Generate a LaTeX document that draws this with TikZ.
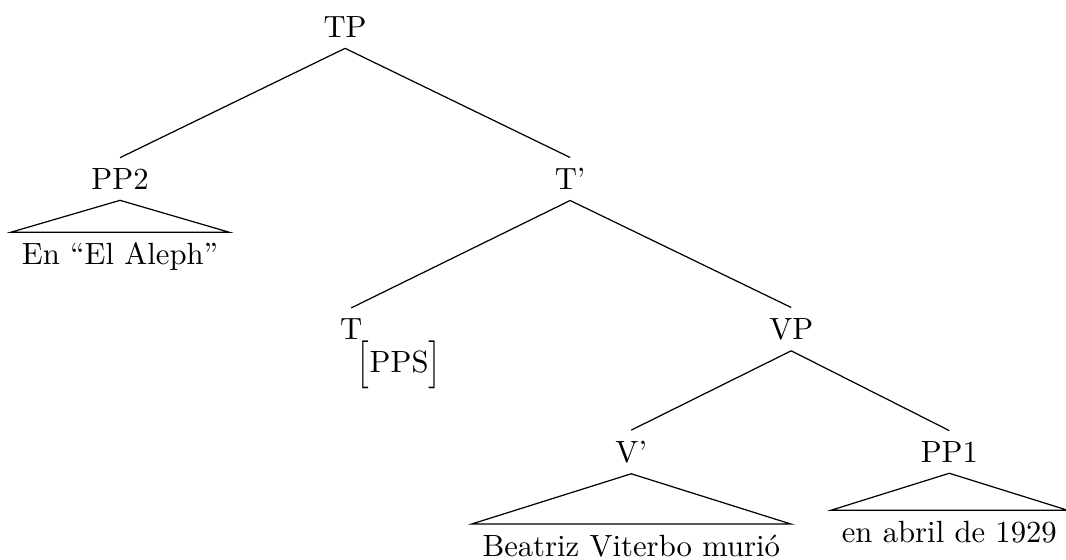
\documentclass[tikz,border=0pt]{standalone}
\usepackage{amsmath}
\usepackage{graphicx}
\usetikzlibrary{positioning}
% taller brackets round a feature
\newcommand{\featbrack}[1]{\raisebox{-0.9pt}{\scalebox{1}[1.3]{$#1$}}}

\begin{document}
\begin{tikzpicture}[
    on grid,
    cat/.style={inner sep=3.33pt},
    leaf/.style={inner sep=3.33pt},
    feat/.style={inner sep=0pt},
    roof/.style={line join=miter},
  ]
  \useasboundingbox (-112.4pt,-173.3pt) rectangle (234.8pt,8.8pt);
  % categories
  \node[cat]                                       (TP)   {TP};
  \node[cat, below left=49.5pt and 73.3pt of TP]   (PP2)  {PP2};
  \node[cat, below right=49.5pt and 73.3pt of TP]  (Tbar) {T'};
  \node[cat, below left=48.9pt and 71.3pt of Tbar] (T)    {T};
  \node[cat, below right=48.9pt and 72pt of Tbar]  (VP)   {VP};
  \node[cat, below left=40pt and 52.1pt of VP]     (Vbar) {V'};
  \node[cat, below right=40pt and 51.5pt of VP]    (PP1)  {PP1};
  \node[feat, below right=11.7pt and 15.6pt of T]  (Tfeat) {\featbrack{\bigl[}PPS\featbrack{\bigr]}};
  % words under roofs
  \node[leaf, below=25.4pt of PP2]  (aleph)   {En “El Aleph”};
  \node[leaf, below=30.6pt of Vbar] (beatriz) {Beatriz Viterbo murió};
  \node[leaf, below=26.1pt of PP1]  (abril)   {en abril de 1929};
  % branches
  \draw (TP.south) -- (PP2.north);  \draw (TP.south) -- (Tbar.north);
  \draw (Tbar.south) -- (T.north);  \draw (Tbar.south) -- (VP.north);
  \draw (VP.south) -- (Vbar.north); \draw (VP.south) -- (PP1.north);
  \draw[roof] (PP2.south) -- (aleph.north west) -- (aleph.north east) -- cycle;
  \draw[roof] (Vbar.south) -- (beatriz.north west) -- (beatriz.north east) -- cycle;
  \draw[roof] (PP1.south) -- (abril.north west) -- (abril.north east) -- cycle;
\end{tikzpicture}
\end{document}
